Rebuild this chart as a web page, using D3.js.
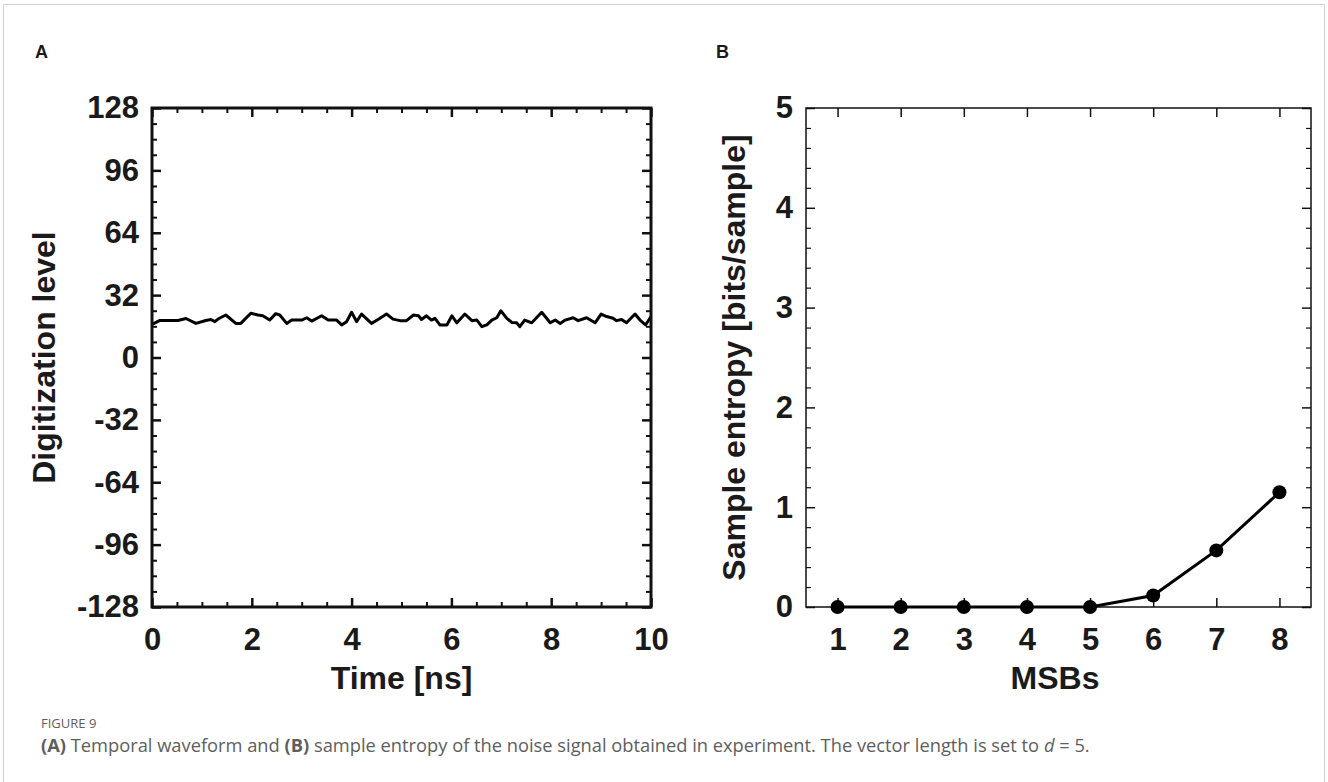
<!DOCTYPE html>
<html>
<head>
<meta charset="utf-8">
<script src="https://cdn.jsdelivr.net/npm/d3@7"></script>
<style>
  body { margin: 0; background: #fff; }
  svg { display: block; }
  .bold { font-family: "Liberation Sans", Arial, sans-serif; font-weight: bold; fill: #1a1a1a; }
  .cap { font-family: "Open Sans", "Noto Sans", sans-serif; fill: #5e5e5e; }
</style>
</head>
<body>
<div id="holder"></div>
<script>
// panel A: waveform (ns, digitization level)
const waveTime = [0, 0.16, 0.52, 0.68, 0.88, 1.08, 1.18, 1.26, 1.34, 1.48, 1.68, 1.78, 1.98, 2.12, 2.22, 2.36, 2.48,
  2.56, 2.70, 2.80, 3.00, 3.10, 3.20, 3.40, 3.53, 3.70, 3.80, 3.90, 4.00, 4.10, 4.20, 4.40, 4.53, 4.70, 4.83,
  4.97, 5.10, 5.24, 5.34, 5.40, 5.50, 5.60, 5.67, 5.77, 5.91, 6.01, 6.11, 6.27, 6.41, 6.51, 6.61, 6.71, 6.81,
  6.91, 6.99, 7.11, 7.21, 7.31, 7.37, 7.47, 7.61, 7.81, 7.98, 8.08, 8.18, 8.28, 8.44, 8.54, 8.71, 8.88, 9.00,
  9.11, 9.24, 9.31, 9.41, 9.51, 9.68, 9.78, 9.89, 10.00];
const waveLevel = [17, 19, 19, 20, 17.5, 19, 19.5, 18.4, 20, 21.8, 17.5, 17.5, 22.7, 21.8, 21.4, 19.2, 22.5,
  21.8, 17.5, 19.2, 19.2, 20.4, 18.7, 21.4, 19.2, 19.2, 16.7, 18.4, 23.2, 18.4, 22.3, 17.5, 19.5, 22.3, 19.7,
  18.9, 18.9, 21.8, 21.4, 19.5, 21.4, 19.2, 20.1, 16.7, 16.7, 21.4, 17.8, 22.3, 18.9, 19.2, 15.8, 16.7, 19.2,
  20.4, 24, 20.1, 18, 17.8, 15.8, 19.2, 17.8, 23.2, 17.8, 19.2, 17.5, 19.2, 20.4, 18.9, 20.4, 17.8, 22.3,
  21, 20.1, 18.9, 19.5, 17.8, 22.3, 19.2, 16.7, 21];
const timeTicks = [0, 2, 4, 6, 8, 10];
const levelTicks = [-128, -96, -64, -32, 0, 32, 64, 96, 128];

// panel B: sample entropy vs number of MSBs
const msbs = [1, 2, 3, 4, 5, 6, 7, 8];
const entropy = [0, 0, 0, 0, 0, 0.115, 0.567, 1.15];
const entropyTicks = [0, 1, 2, 3, 4, 5];

const W = 1328, H = 782;
const svg = d3.select('#holder').append('svg').attr('width', W).attr('height', H);

// light frame of the figure
svg.append('rect').attr('x', 3.5).attr('y', 4.5).attr('width', 1321).attr('height', 800)
  .attr('fill', 'none').attr('stroke', '#d0d0d0').attr('stroke-width', 1);

const plotTop = 108, plotBottom = 607;
const plain = d => String(d);   // hyphen minus, no decimals

function frameAxes(g, x, y, opt) {
  const [x0, x1] = x.range();
  const [y0, y1] = y.range();
  const add = (axis, tx, ty, big) => {
    const a = g.append('g').attr('transform', 'translate(' + tx + ',' + ty + ')').call(axis);
    a.select('.domain').remove();
    a.selectAll('line').attr('stroke', '#111').attr('stroke-width', big ? opt.tickW : opt.tickW * 0.8);
    return a;
  };
  // majors with labels, left + bottom
  const l = add(d3.axisLeft(y).tickValues(opt.yTicks).tickSize(-opt.major).tickPadding(13).tickFormat(plain), x0, 0, true);
  const b = add(d3.axisBottom(x).tickValues(opt.xTicks).tickSize(-opt.major).tickPadding(21).tickFormat(plain), 0, y0, true);
  [l, b].forEach(a => a.selectAll('text').attr('class', 'bold').style('font-size', '31px'));
  // majors on right and top, no labels
  add(d3.axisRight(y).tickValues(opt.yTicks).tickSize(-opt.major).tickFormat(''), x1, 0, true);
  add(d3.axisTop(x).tickValues(opt.xTicks).tickSize(-opt.major).tickFormat(''), 0, y1, true);
  // minors
  if (opt.yMinor) {
    add(d3.axisLeft(y).tickValues(opt.yMinor).tickSize(-opt.minor).tickFormat(''), x0, 0, false);
    add(d3.axisRight(y).tickValues(opt.yMinor).tickSize(-opt.minor).tickFormat(''), x1, 0, false);
  }
  if (opt.xMinor) {
    add(d3.axisBottom(x).tickValues(opt.xMinor).tickSize(-opt.minor).tickFormat(''), 0, y0, false);
    add(d3.axisTop(x).tickValues(opt.xMinor).tickSize(-opt.minor).tickFormat(''), 0, y1, false);
  }
  g.append('rect').attr('x', x0).attr('y', y1).attr('width', x1 - x0).attr('height', y0 - y1)
    .attr('fill', 'none').attr('stroke', '#111').attr('stroke-width', opt.frameW);
}

// ---------- panel A ----------
const xA = d3.scaleLinear().domain([0, 10]).range([152, 651]);
const yA = d3.scaleLinear().domain([-128, 128]).range([plotBottom, plotTop]);
const gA = svg.append('g');

const minorT = d3.range(0, 10.001, 0.5).filter(v => v % 2 !== 0);
const minorL = d3.range(-128, 128.001, 8).filter(v => v % 32 !== 0);

gA.append('path')
  .datum(waveTime.map((t, i) => [t, waveLevel[i]]))
  .attr('d', d3.line().x(d => xA(d[0])).y(d => yA(d[1])))
  .attr('fill', 'none').attr('stroke', '#000').attr('stroke-width', 3).attr('stroke-linejoin', 'round');

frameAxes(gA, xA, yA, {xTicks: timeTicks, yTicks: levelTicks, xMinor: minorT, yMinor: minorL,
  major: 9, minor: 5, tickW: 2.5, frameW: 3});

gA.append('text').attr('class', 'bold').style('font-size', '32px').attr('text-anchor', 'middle')
  .attr('x', 401.5).attr('y', 689).text('Time [ns]');
gA.append('text').attr('class', 'bold').style('font-size', '32px').attr('text-anchor', 'middle')
  .attr('transform', 'translate(55,357.5) rotate(-90)').text('Digitization level');
gA.append('text').attr('class', 'bold').style('font-size', '18px').attr('x', 35).attr('y', 58).text('A');

// ---------- panel B ----------
const xB = d3.scaleLinear().domain([0.5, 8.5]).range([806, 1311]);
const yB = d3.scaleLinear().domain([0, 5]).range([plotBottom, plotTop]);
const gB = svg.append('g');

const minorE = d3.range(0, 5.001, 0.2).map(v => +v.toFixed(1)).filter(v => v % 1 !== 0);

frameAxes(gB, xB, yB, {xTicks: msbs, yTicks: entropyTicks, yMinor: minorE,
  major: 9, minor: 5, tickW: 1.5, frameW: 1.5});

gB.append('path')
  .datum(msbs.map((m, i) => [m, entropy[i]]))
  .attr('d', d3.line().x(d => xB(d[0])).y(d => yB(d[1])))
  .attr('fill', 'none').attr('stroke', '#000').attr('stroke-width', 3);

gB.selectAll('circle.pt')
  .data(msbs)
  .enter()
  .append('circle')
  .attr('class', 'pt')
  .attr('cx', d => xB(d))
  .attr('cy', (_, i) => yB(entropy[i]))
  .attr('r', 7)
  .attr('fill', '#000');

gB.append('text').attr('class', 'bold').style('font-size', '32px').attr('text-anchor', 'middle')
  .attr('x', 1055).attr('y', 689).text('MSBs');
gB.append('text').attr('class', 'bold').style('font-size', '32px').attr('text-anchor', 'middle')
  .attr('transform', 'translate(745,357.5) rotate(-90)').text('Sample entropy [bits/sample]');
gB.append('text').attr('class', 'bold').style('font-size', '18px').attr('x', 716).attr('y', 58).text('B');

// ---------- caption ----------
svg.append('text').attr('class', 'cap').style('font-size', '13px').attr('x', 41).attr('y', 728).text('FIGURE 9');
const cap = svg.append('text').attr('class', 'cap').style('font-size', '18.3px').attr('x', 41).attr('y', 752);
cap.append('tspan').style('font-weight', 'bold').text('(A)');
cap.append('tspan').text(' Temporal waveform and ');
cap.append('tspan').style('font-weight', 'bold').text('(B)');
cap.append('tspan').text(' sample entropy of the noise signal obtained in experiment. The vector length is set to ');
cap.append('tspan').style('font-style', 'italic').text('d');
cap.append('tspan').text(' = 5.');
</script>
</body>
</html>
